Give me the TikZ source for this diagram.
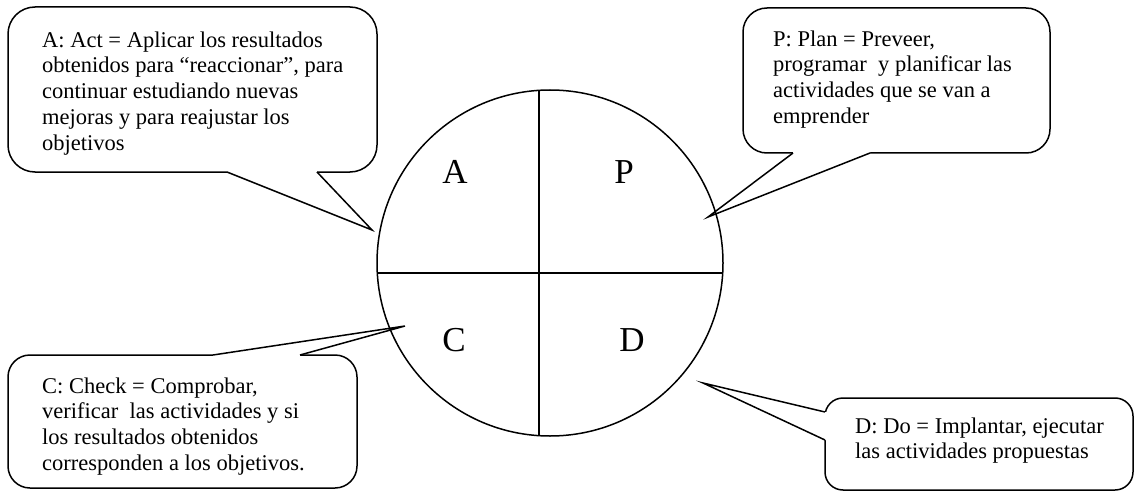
\documentclass[tikz,border=0pt]{standalone}
\usepackage{fontspec}
\setmainfont{Liberation Serif}
\begin{document}
\begin{tikzpicture}[x=1pt,y=-1pt,
  outline/.style={line width=1.5pt, draw=black},
  callbox/.style={outline, fill=white, inner sep=0pt, rectangle},
  calltext/.style={anchor=north west, inner sep=0pt, align=left,
    font=\fontsize{22.5}{25.8}\selectfont},
  quadletter/.style={anchor=base, inner sep=0pt,
    font=\fontsize{35}{40}\selectfont},
  wedgefill/.style={fill=white, draw=none},
  wedgeline/.style={line width=1.5pt, line join=miter}]
\useasboundingbox (0,0) rectangle (1135,492);

% callout boxes
\node[callbox, rounded corners=27pt, minimum width=369pt, minimum height=165pt] (boxA) at (192.5,89.5) {};
\node[callbox, rounded corners=24pt, minimum width=307pt, minimum height=145pt] (boxP) at (896.5,80.5) {};
\node[callbox, rounded corners=22pt, minimum width=349pt, minimum height=133pt] (boxC) at (182.5,421.5) {};
\node[callbox, rounded corners=18pt, minimum width=308pt, minimum height=92pt] (boxD) at (979,444) {};

% wedge tips and bases
\coordinate (tipA) at (372,230);
\coordinate (tipP) at (708,217);
\coordinate (tipC) at (405,326);
\coordinate (tipD) at (703,383);
\coordinate (a1) at (227,172); \coordinate (a2) at (317,172);
\coordinate (p1) at (793,153); \coordinate (p2) at (870,153);
\coordinate (c1) at (213,355); \coordinate (c2) at (300,355);
\coordinate (d1) at (825,412); \coordinate (d2) at (825,440);

% wedges: white fill hides the box border under the base
\fill[wedgefill] ([yshift=3pt]a1) -- (a1) -- (tipA) -- (a2) -- ([yshift=3pt]a2) -- cycle;
\fill[wedgefill] ([yshift=3pt]p1) -- (p1) -- (tipP) -- (p2) -- ([yshift=3pt]p2) -- cycle;
\fill[wedgefill] ([yshift=-3pt]c1) -- (c1) -- (tipC) -- (c2) -- ([yshift=-3pt]c2) -- cycle;
\fill[wedgefill] ([xshift=3pt]d1) -- (d1) -- (tipD) -- (d2) -- ([xshift=3pt]d2) -- cycle;
\draw[wedgeline] (a1) -- (tipA) -- (a2);
\draw[wedgeline] (p1) -- (tipP) -- (p2);
\draw[wedgeline] (c1) -- (tipC) -- (c2);
\draw[wedgeline] (d1) -- (tipD) -- (d2);

% PDCA circle with its quadrants
\node[outline, circle, minimum size=346pt, inner sep=0pt] (cyc) at (550,263) {};
\coordinate (vtop) at (539,90.35);
\coordinate (vbot) at (539,435.65);
\coordinate (hleft) at (377.3,273);
\coordinate (hright) at (722.7,273);
\draw[outline] (vtop) -- (vbot);
\draw[outline] (hleft) -- (hright);

\node[quadletter] (qA) at (455,183) {A};
\node[quadletter] (qP) at (624,183) {P};
\node[quadletter] (qC) at (454,351) {C};
\node[quadletter] (qD) at (632,351) {D};

% callout texts
\node[calltext] (txtA) at (42,28.9) {\strut A: Act = Aplicar los resultados\\
obtenidos para “reaccionar”, para\\
continuar estudiando nuevas\\
mejoras y para reajustar los\\
objetivos};
\node[calltext] (txtP) at (773,27.9) {\strut P: Plan = Preveer,\\
programar\ \ y planificar las\\
actividades que se van a\\
emprender};
\node[calltext] (txtC) at (42,374.9) {\strut C: Check = Comprobar,\\
verificar\ \ las actividades y si\\
los resultados obtenidos\\
corresponden a los objetivos.};
\node[calltext] (txtD) at (855,414.9) {\strut D: Do = Implantar, ejecutar\\
las actividades propuestas};
\end{tikzpicture}
\end{document}
